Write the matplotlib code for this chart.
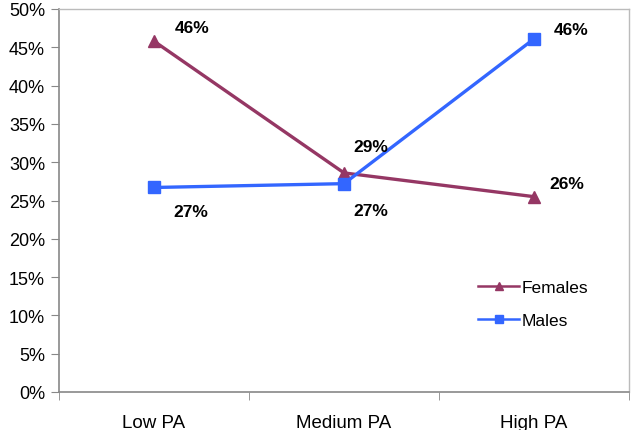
import matplotlib
matplotlib.use("Agg")
import matplotlib.pyplot as plt
from matplotlib.ticker import PercentFormatter, FixedLocator

plt.rcParams['font.family'] = ['Liberation Sans', 'DejaVu Sans']

categories = ["Low PA", "Medium PA", "High PA"]
females = [45.8, 28.6, 25.5]
males = [26.7, 27.2, 46.1]
female_labels = ["46%", "29%", "26%"]
male_labels = ["27%", "27%", "46%"]

fig = plt.figure(figsize=(6.33, 4.31), dpi=100)
ax = fig.add_axes([59/633, 1-393/431, (629-59)/633, (393-10)/431])

x = list(range(len(categories)))
fcol = "#953764"
mcol = "#3366FF"
ax.plot(x, females, color=fcol, lw=2.4, marker="^", ms=8.5, label="Females")
ax.plot(x, males, color=mcol, lw=2.4, marker="s", ms=8, label="Males")

f_off = [(38, 14), (27, 26), (33, 13)]
m_off = [(37, -24), (27, -27), (37, 9)]
for i in x:
    ax.annotate(female_labels[i], (x[i], females[i]), xytext=f_off[i], textcoords='offset pixels',
                ha='center', va='center', fontsize=12.5, fontweight='bold')
    ax.annotate(male_labels[i], (x[i], males[i]), xytext=m_off[i], textcoords='offset pixels',
                ha='center', va='center', fontsize=12.5, fontweight='bold')

ax.set_xlim(-0.5, 2.5)
ax.set_ylim(0, 50)
ax.yaxis.set_major_locator(FixedLocator([0, 5, 10, 15, 20, 25, 30, 35, 40, 45, 50]))
ax.yaxis.set_major_formatter(PercentFormatter(decimals=0))
ax.set_xticks(x)
ax.set_xticklabels(categories)
ax.set_xticks([-0.5, 0.5, 1.5, 2.5], minor=True)
ax.tick_params(axis='x', which='major', length=0, pad=16, labelsize=13.5)
ax.tick_params(axis='x', which='minor', length=6, color='#888888', direction='out')
ax.tick_params(axis='y', length=6, color='#888888', direction='out', labelsize=13, pad=4)

for s in ['left', 'bottom']:
    ax.spines[s].set_color('#888888')
    ax.spines[s].set_linewidth(1.2)
for s in ['top', 'right']:
    ax.spines[s].set_color('#BBBBBB')
    ax.spines[s].set_linewidth(1.0)

leg = ax.legend(loc='center left', bbox_to_anchor=(410/570, 1-(305-10)/383), frameon=False,
                fontsize=12.5, handlelength=2.4, handletextpad=0.15, labelspacing=1.0,
                borderpad=0, markerscale=0.75)
for h in leg.get_lines():
    h.set_linewidth(1.8)

fig.savefig("out.png", dpi=100)
